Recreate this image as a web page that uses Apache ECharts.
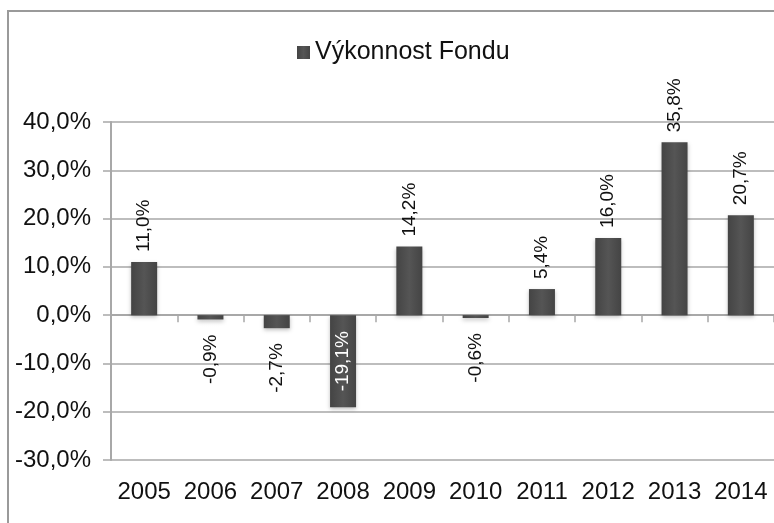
<!DOCTYPE html>
<html>
<head>
<meta charset="utf-8">
<script src="https://cdn.jsdelivr.net/npm/echarts@6/dist/echarts.min.js"></script>
<style>
html,body{margin:0;padding:0;background:#fff;}
#chart{width:774px;height:523px;}
</style>
</head>
<body>
<div id="chart"></div>
<script>
var categories = ['2005','2006','2007','2008','2009','2010','2011','2012','2013','2014'];
var seriesName = 'Výkonnost Fondu';
var values = [11.0, -0.9, -2.7, -19.1, 14.2, -0.6, 5.4, 16.0, 35.8, 20.7];
var yTicks = [-30, -20, -10, 0, 10, 20, 30, 40];

var FONT = '"Liberation Sans", Arial, sans-serif';
function fmt(v){ return v.toFixed(1).replace('.', ',') + '%'; }

var chart = echarts.init(document.getElementById('chart'));

var data = values.map(function(v){
  var item = {value: v};
  if (v < -10) {
    item.label = {position: 'inside', color: '#ffffff', rotate: 90, align: 'center', verticalAlign: 'middle'};
  } else if (v < 0) {
    item.label = {position: 'bottom', distance: 15, rotate: 90, align: 'right', verticalAlign: 'middle'};
  }
  return item;
});

chart.setOption({
  animation: false,
  backgroundColor: '#ffffff',
  graphic: [{
    type: 'rect',
    shape: {x: 8, y: 11, width: 900, height: 600},
    style: {fill: 'none', stroke: '#9a9a9a', lineWidth: 2},
    silent: true,
    z: -1
  }],
  legend: {
    top: 35,
    left: 292,
    itemWidth: 13,
    itemHeight: 13,
    itemGap: 10,
    icon: 'rect',
    textStyle: {fontFamily: FONT, fontSize: 25, color: '#111'},
    data: [seriesName]
  },
  grid: {left: 111, right: -4, top: 122, bottom: 63, containLabel: false},
  xAxis: [{
    type: 'category',
    data: categories,
    position: 'bottom',
    axisLine: {show: true, onZero: true, lineStyle: {color: '#a8a8a8', width: 2}},
    axisTick: {show: true, length: 7, lineStyle: {color: '#a8a8a8', width: 1.5}},
    axisLabel: {show: false},
    splitLine: {show: false}
  }, {
    type: 'category',
    data: categories,
    position: 'bottom',
    axisLine: {show: false, onZero: false},
    axisTick: {show: false},
    axisLabel: {show: true, margin: 20, fontFamily: FONT, fontSize: 24, color: '#111', interval: 0},
    splitLine: {show: false}
  }],
  yAxis: {
    type: 'value',
    min: yTicks[0],
    max: yTicks[yTicks.length - 1],
    interval: 10,
    axisLine: {show: true, lineStyle: {color: '#a8a8a8', width: 2}},
    axisTick: {show: true, length: 8, lineStyle: {color: '#a8a8a8', width: 1.5}},
    axisLabel: {margin: 20, fontFamily: FONT, fontSize: 24, color: '#111', formatter: fmt},
    splitLine: {show: true, lineStyle: {color: '#bdbdbd', width: 2}}
  },
  series: [{
    name: seriesName,
    type: 'bar',
    xAxisIndex: 0,
    data: data,
    barWidth: 26,
    itemStyle: {
      color: new echarts.graphic.LinearGradient(0, 0, 1, 0, [
        {offset: 0, color: '#444444'},
        {offset: 0.5, color: '#555555'},
        {offset: 1, color: '#444444'}
      ]),
      shadowColor: 'rgba(0,0,0,0.25)',
      shadowBlur: 4,
      shadowOffsetY: 2
    },
    label: {
      show: true,
      position: 'top',
      distance: 10,
      rotate: 90,
      align: 'left',
      verticalAlign: 'middle',
      fontFamily: FONT,
      fontSize: 19,
      color: '#111',
      formatter: function(p){ return fmt(p.value); }
    }
  }]
});
</script>
</body>
</html>
